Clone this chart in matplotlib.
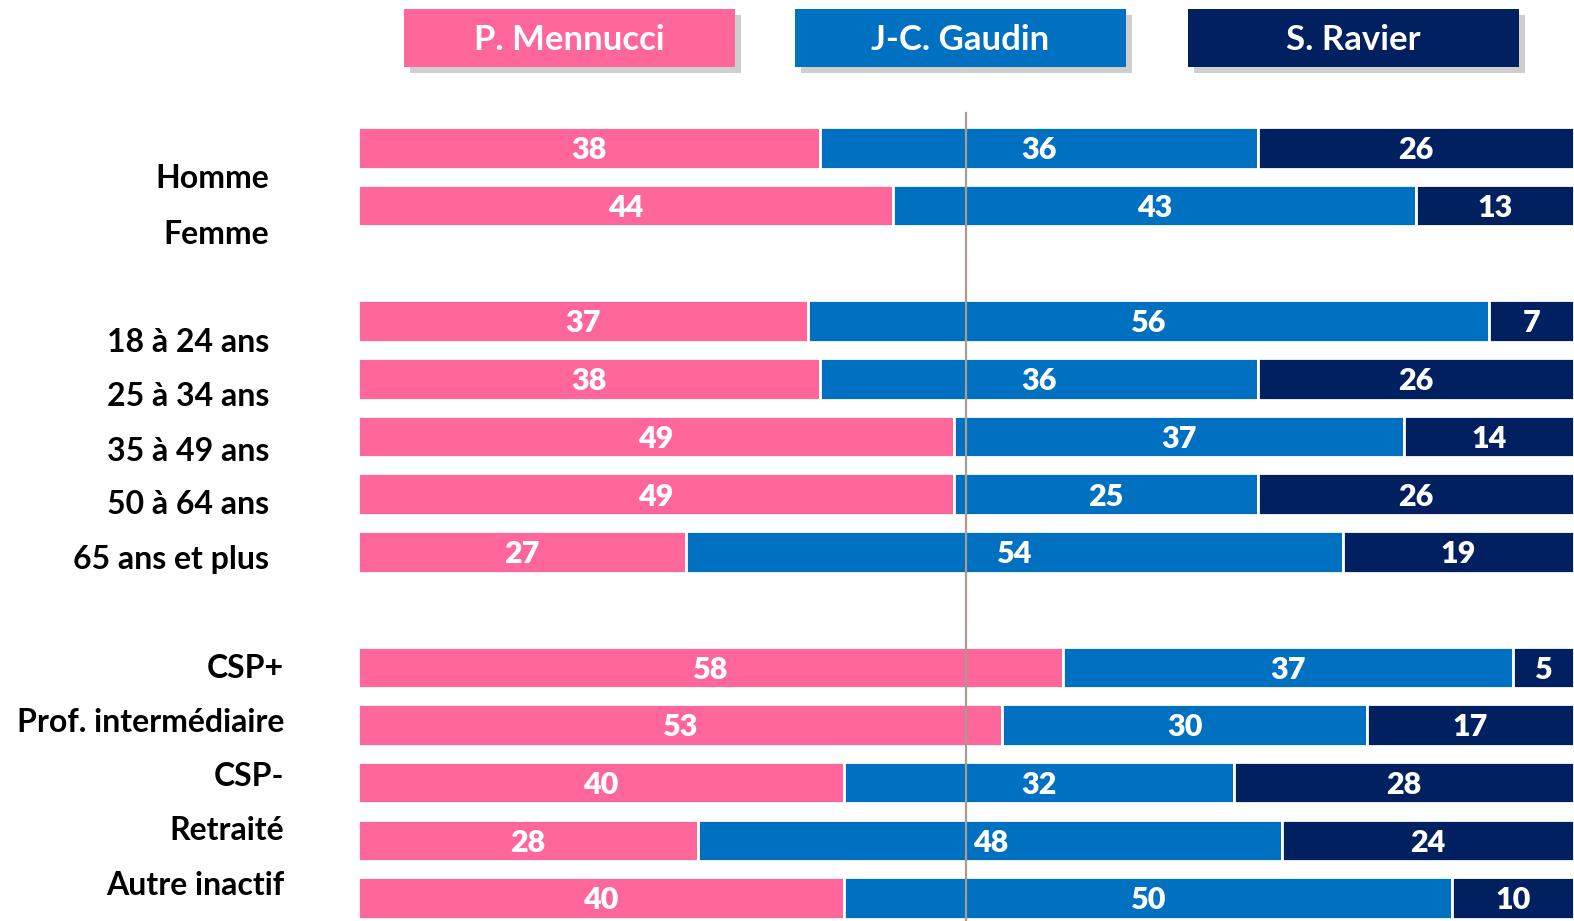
import matplotlib
matplotlib.use('Agg')
import matplotlib.pyplot as plt
from matplotlib.patches import Rectangle
import matplotlib.patheffects as pe

categories = ['Homme', 'Femme', '18 à 24 ans', '25 à 34 ans', '35 à 49 ans',
              '50 à 64 ans', '65 ans et plus', 'CSP+', 'Prof. intermédiaire',
              'CSP-', 'Retraité', 'Autre inactif']
groups = [0, 0, 1, 1, 1, 1, 1, 2, 2, 2, 2, 2]
mennucci = [38, 44, 37, 38, 49, 49, 27, 58, 53, 40, 28, 40]
gaudin = [36, 43, 56, 36, 37, 25, 54, 37, 30, 32, 48, 50]
ravier = [26, 13, 7, 26, 14, 26, 19, 5, 17, 28, 24, 10]
candidates = ['P. Mennucci', 'J-C. Gaudin', 'S. Ravier']
colors = ['#FF6699', '#0070C0', '#002060']
midline = 50

FONT = ['Lato', 'DejaVu Sans']
plt.rcParams['font.family'] = FONT

W, H = 1574, 921
fig = plt.figure(figsize=(W / 100, H / 100), dpi=100)
left_px = 358
ax = fig.add_axes([left_px / W, 0, 1 - left_px / W, 1])
row_px = 57.7
y0_px = 148
ax.set_xlim(0, 100 * (W - left_px) / 1216)
ax.set_ylim((H - y0_px) / row_px, -y0_px / row_px)
ax.axis('off')

ypos = [i + g for i, g in enumerate(groups)]
series = [mennucci, gaudin, ravier]
lefts = [0] * len(categories)
for vals, col in zip(series, colors):
    ax.barh(ypos, vals, left=lefts, height=0.72, color=col,
            edgecolor='white', linewidth=2, zorder=2)
    for y, l, v in zip(ypos, lefts, vals):
        ax.text(l + v / 2, y + 0.04, str(v), ha='center', va='center',
                color='white', fontsize=22, fontweight='heavy', zorder=4)
    lefts = [l + v for l, v in zip(lefts, vals)]

ax.plot([midline, midline], [(113 - y0_px) / row_px, (H - y0_px) / row_px],
        color='#A89C94', lw=1.6, zorder=3)

# category labels
label_y = [179, 234, 343, 397, 451, 505, 559, 668, 722, 776, 830, 885]
label_x = [269] * 7 + [284] * 5
for cat, lx, ly in zip(categories, label_x, label_y):
    fig.text(lx / W, 1 - ly / H, cat, ha='right', va='center',
             fontsize=23, fontweight='bold', color='black')

# legend boxes
box_x = [404, 795, 1188]
box_w, box_top, box_h = 331, 9, 58
for name, col, bx in zip(candidates, colors, box_x):
    r = Rectangle((bx / W, 1 - (box_top + box_h) / H), box_w / W, box_h / H,
                  transform=fig.transFigure, facecolor=col, edgecolor='none',
                  path_effects=[pe.SimplePatchShadow(offset=(4, -4), shadow_rgbFace='#777777', alpha=0.35),
                                pe.Normal()])
    fig.add_artist(r)
    fig.text((bx + box_w / 2) / W, 1 - (box_top + box_h / 2 + 2) / H, name,
             ha='center', va='center', color='white', fontsize=25,
             fontweight='bold')

fig.savefig('out.png', dpi=100)
